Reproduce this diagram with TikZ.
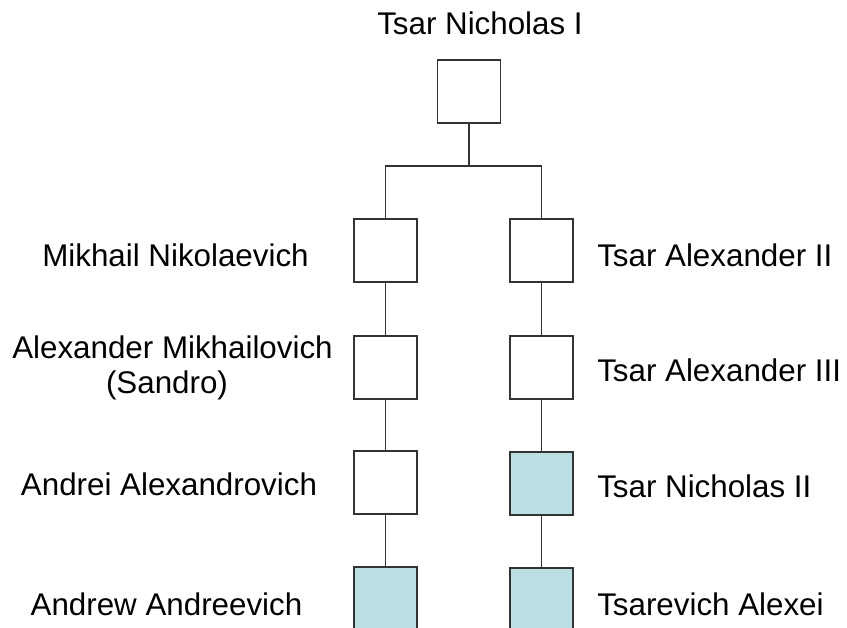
\documentclass[tikz,border=0pt]{standalone}
\usepackage{fontspec}
\setmainfont{Liberation Sans}
\definecolor{boxblue}{HTML}{BBE0E3}
\definecolor{linec}{HTML}{333333}
\begin{document}
\begin{tikzpicture}[x=0.75pt,y=-0.75pt,
  pbox/.style={draw=linec,line width=0.9pt,minimum size=47.25pt,inner sep=0pt,fill=white},
  hbox/.style={pbox,fill=boxblue},
  conn/.style={draw=linec,line width=0.9pt},
  lbl/.style={font=\fontsize{23.5pt}{26pt}\selectfont,inner sep=0pt,anchor=base},
  rlbl/.style={lbl,anchor=base west}]
\useasboundingbox (0,0) rectangle (847,628);
\clip (0,0) rectangle (847,628);
\node[pbox] (top) at (469,91.5) {};
\node[pbox] (L1) at (385.5,250.5) {};
\node[pbox] (R1) at (541.5,250.5) {};
\node[pbox] (L2) at (385.5,367.5) {};
\node[pbox] (R2) at (541.5,367.5) {};
\node[pbox] (L3) at (385.5,482.5) {};
\node[hbox] (R3) at (541.5,483.5) {};
\node[hbox] (L4) at (385.5,598.5) {};
\node[hbox] (R4) at (541.5,599.5) {};
\coordinate (j) at (469,166);
\draw[conn] (top.south) -- (j);
\draw[conn] (L1.north) |- (j) -| (R1.north);
\draw[conn] (L1) -- (L2);
\draw[conn] (L2) -- (L3);
\draw[conn] (L3) -- (L4);
\draw[conn] (R1) -- (R2);
\draw[conn] (R2) -- (R3);
\draw[conn] (R3) -- (R4);
\node[lbl] (tn) at (480,35) {Tsar Nicholas I};
\node[lbl] (mn) at (175.5,266) {Mikhail Nikolaevich};
\node[lbl] (am) at (172.5,358) {Alexander Mikhailovich};
\node[lbl] (sa) at (167,393) {(Sandro)};
\node[lbl] (aa) at (169,495) {Andrei Alexandrovich};
\node[lbl] (an) at (166.5,615) {Andrew Andreevich};
\node[rlbl] (ta2) at (597,266) {Tsar Alexander II};
\node[rlbl] (ta3) at (597,381) {Tsar Alexander III};
\node[rlbl] (tn2) at (597,497) {Tsar Nicholas II};
\node[rlbl] (ta) at (597,615) {Tsarevich Alexei};
\end{tikzpicture}
\end{document}
